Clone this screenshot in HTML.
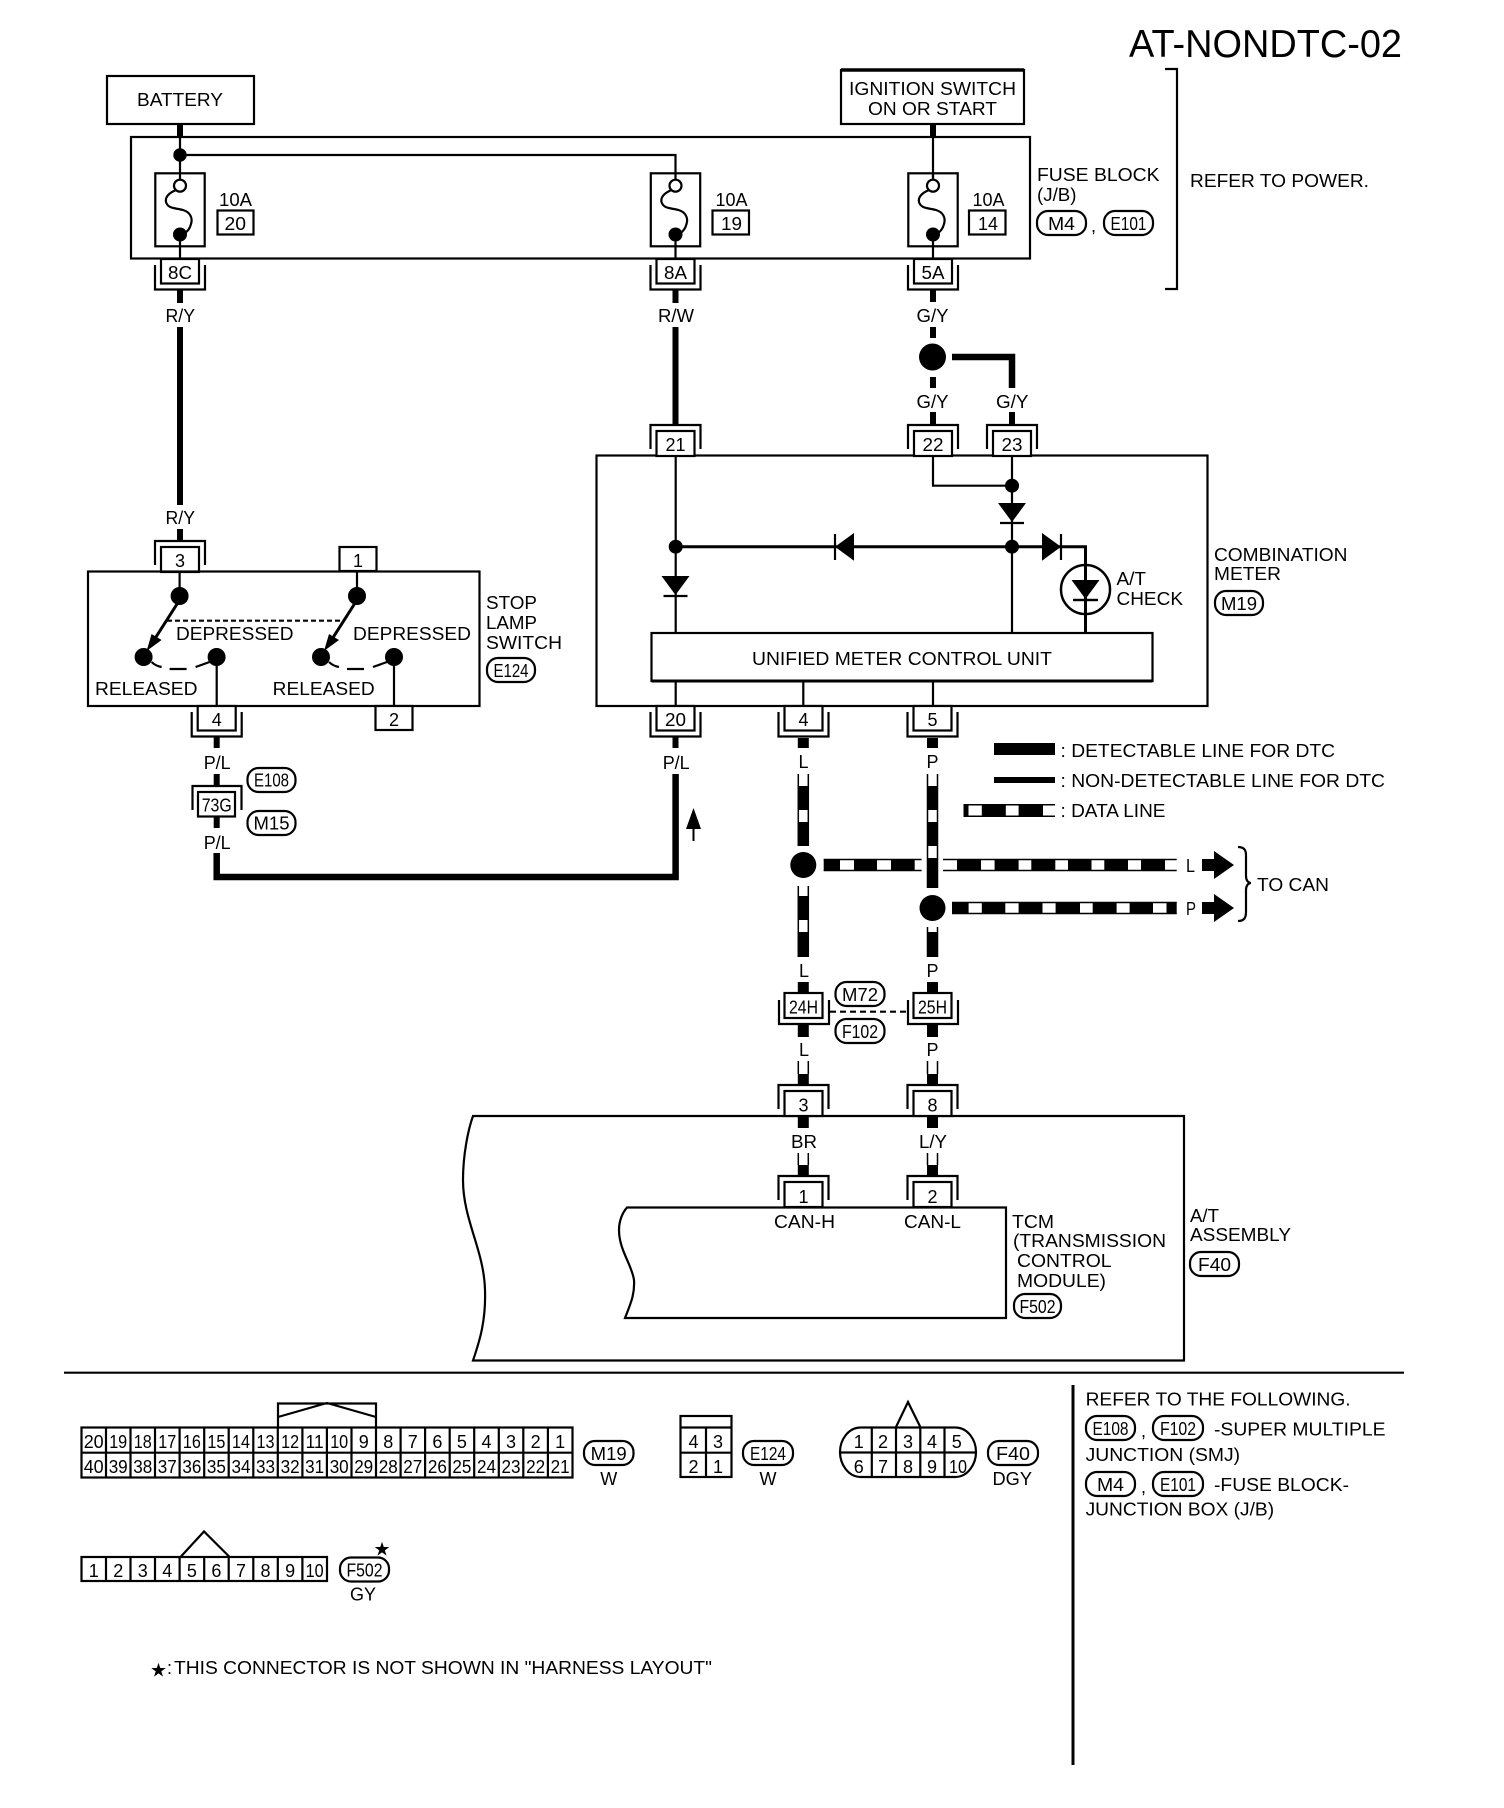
<!DOCTYPE html>
<html>
<head>
<meta charset="utf-8">
<style>
html,body{margin:0;padding:0;background:#fff}
svg{display:block}
text{font-family:"Liberation Sans",sans-serif;font-size:18px;fill:#000;stroke:none}
.m{text-anchor:middle}
.l{fill:none;stroke:#000;stroke-width:2.2}
.w{fill:none;stroke:#000;stroke-width:6}
.d{fill:none;stroke:#000;stroke-width:11}
.s{fill:none;stroke:#000;stroke-width:1.5}
.h{fill:none;stroke:#000;stroke-width:12}
.b{fill:#fff;stroke:#000;stroke-width:2.2}
.f{fill:#000;stroke:none}
text.t{font-family:"DejaVu Sans",sans-serif;font-size:19px}
</style>
</head>
<body>
<svg width="1504" height="1808" viewBox="0 0 1504 1808" xmlns="http://www.w3.org/2000/svg">
<defs>
<g id="cb"><path class="l" d="M-25 6V30.500H25V6" stroke-width="2.800"/><rect class="b" x="-19" y="0" width="38" height="24.500"/></g>
<g id="ct"><path class="l" d="M-25 24V0H25V24" stroke-width="2.800"/><rect class="b" x="-19" y="6" width="38" height="25"/></g>
<g id="fuse">
<rect class="l" x="-24.700" y="173.300" width="49.400" height="73"/>
<circle cx="0" cy="185.700" r="6" fill="#fff" stroke="#000" stroke-width="2.200"/>
<path class="l" d="M-4 190C-11 193-15 197-14 202C-12 209-4 208 3 210C10 212 13 218 11 224C10 228 8 231 5 233"/>
<circle class="f" cx="0" cy="234.500" r="7"/>
<path class="l" d="M0 235V259"/>
</g>
<g id="diode"><polygon class="f" points="-14,0 14,0 0,19"/><path class="l" d="M-12 20H12"/></g>
<g id="sw">
<circle class="f" cx="0" cy="0" r="9"/>
<path d="M0 4L-30 51" fill="none" stroke="#000" stroke-width="3"/>
<polygon class="f" points="-33,55 -28,38 -18,44"/>
<circle class="f" cx="-36" cy="61" r="9"/>
<circle class="f" cx="37" cy="61" r="9"/>
<path class="l" d="M-28 66Q-24 70-18 71M-10 73H7M16 71L30 66"/>
</g>
</defs>

<!-- title -->
<text x="1129" y="57" style="font-size:39px" textLength="273" lengthAdjust="spacingAndGlyphs">AT-NONDTC-02</text>

<!-- top boxes -->
<rect class="l" x="107" y="76" width="147" height="48"/>
<text x="137" y="106" textLength="86" lengthAdjust="spacingAndGlyphs">BATTERY</text>
<rect class="l" x="841" y="70" width="183" height="54"/>
<path d="M841 70H1024" stroke="#000" stroke-width="3.500"/>
<text x="849" y="95" textLength="167" lengthAdjust="spacingAndGlyphs">IGNITION SWITCH</text>
<text x="868" y="115" textLength="129" lengthAdjust="spacingAndGlyphs">ON OR START</text>
<path class="w" d="M180 124V138M933 124V138"/>

<!-- fuse block -->
<rect class="l" x="131" y="137" width="899" height="121.500"/>
<path class="l" d="M180 137V173M180 155H675.500V173M933 137V179"/>
<circle class="f" cx="180" cy="155" r="6.700"/>
<use href="#fuse" x="180"/>
<use href="#fuse" x="675.500"/>
<use href="#fuse" x="933"/>
<path class="l" d="M180 173V180M675.500 173V180M933 173V180"/>
<text x="219" y="206" textLength="33" lengthAdjust="spacingAndGlyphs">10A</text>
<rect class="b" x="217.500" y="210.500" width="36" height="24"/>
<text x="224.500" y="230" textLength="21.500" lengthAdjust="spacingAndGlyphs">20</text>
<text x="715.500" y="206" textLength="32" lengthAdjust="spacingAndGlyphs">10A</text>
<rect class="b" x="712.500" y="210.500" width="36.500" height="24"/>
<text x="721" y="230" textLength="21" lengthAdjust="spacingAndGlyphs">19</text>
<text x="972.500" y="206" textLength="32" lengthAdjust="spacingAndGlyphs">10A</text>
<rect class="b" x="969" y="210.500" width="36.500" height="24"/>
<text x="978" y="230" textLength="20" lengthAdjust="spacingAndGlyphs">14</text>

<text x="1037" y="181" textLength="122.500" lengthAdjust="spacingAndGlyphs">FUSE BLOCK</text>
<text x="1037" y="201" textLength="39.500" lengthAdjust="spacingAndGlyphs">(J/B)</text>
<rect class="b" x="1037" y="211" width="49" height="24" rx="11"/>
<text class="m" x="1061.500" y="230" textLength="27" lengthAdjust="spacingAndGlyphs">M4</text>
<text x="1091" y="232">,</text>
<rect class="b" x="1104" y="211" width="49" height="24" rx="11"/>
<text class="m" x="1128.500" y="230" textLength="36" lengthAdjust="spacingAndGlyphs">E101</text>
<path class="l" d="M1165 69H1177V289H1165"/>
<text x="1190" y="187" textLength="179" lengthAdjust="spacingAndGlyphs">REFER TO POWER.</text>

<!-- connectors under fuse block -->
<use href="#cb" x="180" y="259"/>
<use href="#cb" x="675.500" y="259"/>
<use href="#cb" x="933" y="259"/>
<text class="m" x="180" y="279" textLength="24" lengthAdjust="spacingAndGlyphs">8C</text>
<text class="m" x="675.500" y="279" textLength="23" lengthAdjust="spacingAndGlyphs">8A</text>
<text class="m" x="933" y="279" textLength="23" lengthAdjust="spacingAndGlyphs">5A</text>

<path class="w" d="M180 290V303M180 327V505M180 529V541M675.500 290V303M675.500 327V425M933 290V302M933 327V338M933 377V388M933 412V425M1012 412V424"/>
<path d="M952 357H1012V388" fill="none" stroke="#000" stroke-width="6.500"/>
<circle class="f" cx="932.500" cy="357" r="13.500"/>
<text x="165.500" y="322" textLength="29.500" lengthAdjust="spacingAndGlyphs">R/Y</text>
<text x="658" y="322" textLength="36" lengthAdjust="spacingAndGlyphs">R/W</text>
<text x="916.500" y="322" textLength="32" lengthAdjust="spacingAndGlyphs">G/Y</text>
<text x="916.500" y="408" textLength="32" lengthAdjust="spacingAndGlyphs">G/Y</text>
<text x="996" y="408" textLength="32.500" lengthAdjust="spacingAndGlyphs">G/Y</text>
<text x="165.500" y="524" textLength="29.500" lengthAdjust="spacingAndGlyphs">R/Y</text>

<!-- combination meter -->
<rect class="l" x="596.500" y="455.500" width="611" height="250.500"/>
<use href="#ct" x="675.500" y="425"/>
<use href="#ct" x="933" y="425"/>
<use href="#ct" x="1012" y="425"/>
<text class="m" x="675.500" y="451" textLength="20" lengthAdjust="spacingAndGlyphs">21</text>
<text class="m" x="933" y="451" textLength="21" lengthAdjust="spacingAndGlyphs">22</text>
<text class="m" x="1012" y="451" textLength="21" lengthAdjust="spacingAndGlyphs">23</text>
<path class="l" d="M675.700 456V632M933 456V485.700H1012M1012 456V632M675.700 682V706M803.300 682V706M933 682V706"/>
<path d="M676 546.700H1085.500V633" fill="none" stroke="#000" stroke-width="3"/>
<circle class="f" cx="675.700" cy="546.700" r="7"/>
<circle class="f" cx="1012" cy="485.700" r="7"/>
<circle class="f" cx="1012" cy="546.700" r="7"/>
<use href="#diode" x="1012" y="503"/>
<use href="#diode" x="675.500" y="576"/>
<polygon class="f" points="835,546.700 854,533 854,560.700"/>
<path class="l" d="M835 534V560"/>
<polygon class="f" points="1061,546.700 1042,533 1042,560.700"/>
<path class="l" d="M1061 534V560"/>
<circle cx="1085.500" cy="589.500" r="24.500" fill="none" stroke="#000" stroke-width="2.500"/>
<use href="#diode" x="1085.500" y="580"/>
<path class="l" d="M1073 600H1098"/>
<rect class="b" x="651.500" y="633" width="501" height="48"/>
<path d="M651.500 681H1152.500" stroke="#000" stroke-width="3"/>
<text x="752" y="665" textLength="300" lengthAdjust="spacingAndGlyphs">UNIFIED METER CONTROL UNIT</text>
<text x="1116.500" y="585" textLength="29.500" lengthAdjust="spacingAndGlyphs">A/T</text>
<text x="1116.500" y="605" textLength="66.500" lengthAdjust="spacingAndGlyphs">CHECK</text>
<text x="1214" y="561" textLength="133.500" lengthAdjust="spacingAndGlyphs">COMBINATION</text>
<text x="1214" y="580" textLength="67" lengthAdjust="spacingAndGlyphs">METER</text>
<rect class="b" x="1215" y="591" width="48" height="24" rx="11"/>
<text class="m" x="1239" y="610" textLength="36" lengthAdjust="spacingAndGlyphs">M19</text>

<use href="#cb" x="675.500" y="706"/>
<use href="#cb" x="803.500" y="706"/>
<use href="#cb" x="932.500" y="706"/>
<text class="m" x="675.500" y="726" textLength="21" lengthAdjust="spacingAndGlyphs">20</text>
<text class="m" x="803.500" y="726">4</text>
<text class="m" x="932.500" y="726">5</text>

<!-- stop lamp switch -->
<use href="#ct" x="180" y="541"/>
<text class="m" x="180" y="567">3</text>
<rect class="b" x="339.500" y="547" width="37" height="24"/>
<text class="m" x="358" y="567">1</text>
<rect class="l" x="88" y="571.500" width="391.500" height="134.500"/>
<path class="l" d="M179.600 571V596M357 571V596M216.700 657V706M394 657V706"/>
<use href="#sw" x="179.600" y="596"/>
<use href="#sw" x="357" y="596"/>
<path class="l" stroke-dasharray="5 3" d="M167 620.700H342"/>
<text x="176" y="640" textLength="117.500" lengthAdjust="spacingAndGlyphs">DEPRESSED</text>
<text x="353" y="640" textLength="118" lengthAdjust="spacingAndGlyphs">DEPRESSED</text>
<text x="95" y="695" textLength="102.500" lengthAdjust="spacingAndGlyphs">RELEASED</text>
<text x="272.700" y="695" textLength="102" lengthAdjust="spacingAndGlyphs">RELEASED</text>
<text x="486" y="609" textLength="51" lengthAdjust="spacingAndGlyphs">STOP</text>
<text x="486" y="629" textLength="51" lengthAdjust="spacingAndGlyphs">LAMP</text>
<text x="486" y="649" textLength="76" lengthAdjust="spacingAndGlyphs">SWITCH</text>
<rect class="b" x="487" y="658" width="48" height="24" rx="11"/>
<text class="m" x="511" y="677" textLength="35" lengthAdjust="spacingAndGlyphs">E124</text>
<use href="#cb" x="216.700" y="706"/>
<text class="m" x="216.700" y="726">4</text>
<rect class="b" x="375.500" y="706" width="37" height="24"/>
<text class="m" x="394" y="726">2</text>

<!-- P/L path -->
<path class="w" d="M216.700 737V748M216.700 774V785M216.700 817V828M675.500 737V748"/>
<text x="203.700" y="769" textLength="27" lengthAdjust="spacingAndGlyphs">P/L</text>
<path class="l" d="M192.500 810V786H241.500V810"/>
<rect class="b" x="198" y="792" width="37" height="24.500"/>
<text class="m" x="216.700" y="811.500" textLength="30" lengthAdjust="spacingAndGlyphs">73G</text>
<rect class="b" x="247.500" y="768" width="48" height="24" rx="11"/>
<text class="m" x="271.500" y="786.500" textLength="35" lengthAdjust="spacingAndGlyphs">E108</text>
<rect class="b" x="247.500" y="811" width="48" height="24" rx="11"/>
<text class="m" x="271.500" y="829.500" textLength="36" lengthAdjust="spacingAndGlyphs">M15</text>
<text x="203.700" y="849" textLength="27" lengthAdjust="spacingAndGlyphs">P/L</text>
<path d="M216.700 853V877H675.600V774" fill="none" stroke="#000" stroke-width="6.500"/>
<text x="662.700" y="769" textLength="27" lengthAdjust="spacingAndGlyphs">P/L</text>
<polygon class="f" points="693.500,808 686,829 701,829"/>
<path d="M693.500 826V841" stroke="#000" stroke-width="2"/>

<!-- L / P labels -->
<text class="m" x="803.500" y="768">L</text>
<text class="m" x="932.500" y="768">P</text>

<!-- legend -->
<rect class="f" x="994" y="743" width="61" height="12"/>
<text x="1060.500" y="757" textLength="274.500" lengthAdjust="spacingAndGlyphs">: DETECTABLE LINE FOR DTC</text>
<rect class="f" x="994" y="777" width="61" height="6"/>
<text x="1060.500" y="787" textLength="324.500" lengthAdjust="spacingAndGlyphs">: NON-DETECTABLE LINE FOR DTC</text>
<path class="s" d="M963.500 804.800H1055M963.500 816.200H1055"/>
<path class="f" d="M963.500 804h5v13h-5zM981.800 804h24v13h-24zM1018.600 804h24.400v13h-24.400z"/>
<text x="1060.500" y="817" textLength="105" lengthAdjust="spacingAndGlyphs">: DATA LINE</text>

<!-- data lines vertical -->
<path class="d" d="M803.300 738V748M932.500 738V748M803.300 786V810M803.300 822V846M803.300 896V920M803.300 932V957M932.500 786V810M932.500 822V846M932.500 858V888M932.500 932V957M803.300 982V992M932.500 982V992M803.300 1025V1037M932.500 1025V1037M803.300 1074V1084M932.500 1074V1084M803.300 1116V1128M932.500 1116V1128M803.300 1165V1176M932.500 1165V1176"/>
<path class="s" d="M798.300 774V846M808.300 774V846M798.300 886V957M808.300 886V957M927.500 774V888M937.500 774V888M927.500 927V957M937.500 927V957M798.300 1061V1074M808.300 1061V1074M927.500 1061V1074M937.500 1061V1074M798.300 1153V1165M808.300 1153V1165M927.500 1153V1165M937.500 1153V1165"/>
<circle class="f" cx="803.300" cy="865" r="13"/>
<circle class="f" cx="932.500" cy="908" r="13"/>

<!-- data lines horizontal -->
<path class="h" d="M823.700 865H840M854 865H877M891 865H914.700M957 865H981M994.600 865H1018.600M1031.300 865H1055.300M1068 865H1091.500M1104.300 865H1128M1141 865H1165"/>
<path class="s" d="M823.700 859.500H921.600M823.700 870.500H921.600M943 859.500H1176.700M943 870.500H1176.700"/>
<path class="h" d="M952 908H968.600M981.800 908H1005.300M1018.600 908H1042.500M1055.600 908H1080M1092.700 908H1116.600M1129.600 908H1153M1166.500 908H1176.700"/>
<path class="s" d="M952 902.500H1176.700M952 913.500H1176.700"/>
<text x="1186" y="872" textLength="9" lengthAdjust="spacingAndGlyphs">L</text>
<text x="1186" y="915" textLength="10" lengthAdjust="spacingAndGlyphs">P</text>
<polygon class="f" points="1202,859 1214,859 1214,851 1234,865 1214,879 1214,871 1202,871"/>
<polygon class="f" points="1202,902 1214,902 1214,894 1234,908 1214,922 1214,914 1202,914"/>
<path class="l" d="M1238 847C1244 847 1246 850 1246 855V876C1246 880 1248 883 1251 883C1248 883 1246 886 1246 890V912C1246 918 1244 921 1238 921"/>
<text x="1257" y="891" textLength="72" lengthAdjust="spacingAndGlyphs">TO CAN</text>

<!-- joint connector -->
<text class="m" x="804" y="977">L</text>
<text class="m" x="932.500" y="977">P</text>
<path class="l" d="M779 1000V1024H829V1000M908 1000V1024H958V1000"/>
<rect class="b" x="784.500" y="993" width="38" height="25"/>
<rect class="b" x="913.500" y="993" width="38" height="25"/>
<text class="m" x="803.500" y="1013.500" textLength="29" lengthAdjust="spacingAndGlyphs">24H</text>
<text class="m" x="932.500" y="1013.500" textLength="29" lengthAdjust="spacingAndGlyphs">25H</text>
<path class="l" stroke-dasharray="6 4" d="M830 1011.700H908"/>
<rect class="b" x="835.500" y="982" width="49" height="24" rx="11"/>
<text class="m" x="860" y="1001" textLength="36" lengthAdjust="spacingAndGlyphs">M72</text>
<rect class="b" x="835.500" y="1019" width="49" height="24" rx="11"/>
<text class="m" x="860" y="1038" textLength="36" lengthAdjust="spacingAndGlyphs">F102</text>
<text class="m" x="804" y="1056">L</text>
<text class="m" x="932.500" y="1056">P</text>

<!-- A/T assembly -->
<path class="l" d="M473 1116H1184V1360.500H473C480 1340 486 1320 485 1290C484 1250 463 1220 463 1180C463 1155 468 1130 473 1116Z"/>
<use href="#ct" x="803.500" y="1085"/>
<use href="#ct" x="932.500" y="1085"/>
<text class="m" x="803.500" y="1111.500">3</text>
<text class="m" x="932.500" y="1111.500">8</text>
<text x="791" y="1148" textLength="26" lengthAdjust="spacingAndGlyphs">BR</text>
<text x="919" y="1148" textLength="28" lengthAdjust="spacingAndGlyphs">L/Y</text>
<path class="l" d="M627 1207.500H1006V1318H625C630 1305 635 1295 634 1280C632 1265 619 1250 619 1230C619 1220 623 1212 627 1207.500Z"/>
<use href="#ct" x="803.500" y="1176"/>
<use href="#ct" x="932.500" y="1176"/>
<text class="m" x="803.500" y="1203">1</text>
<text class="m" x="932.500" y="1203">2</text>
<text x="774" y="1228" textLength="61" lengthAdjust="spacingAndGlyphs">CAN-H</text>
<text x="904" y="1228" textLength="57" lengthAdjust="spacingAndGlyphs">CAN-L</text>
<text x="1012" y="1228" textLength="42" lengthAdjust="spacingAndGlyphs">TCM</text>
<text x="1013" y="1247" textLength="153" lengthAdjust="spacingAndGlyphs">(TRANSMISSION</text>
<text x="1017" y="1267" textLength="94.500" lengthAdjust="spacingAndGlyphs">CONTROL</text>
<text x="1017" y="1287" textLength="89" lengthAdjust="spacingAndGlyphs">MODULE)</text>
<rect class="b" x="1014" y="1294" width="47" height="24" rx="11"/>
<text class="m" x="1037.500" y="1313" textLength="36" lengthAdjust="spacingAndGlyphs">F502</text>
<text x="1190" y="1222" textLength="29" lengthAdjust="spacingAndGlyphs">A/T</text>
<text x="1190" y="1241" textLength="101" lengthAdjust="spacingAndGlyphs">ASSEMBLY</text>
<rect class="b" x="1190" y="1252" width="49" height="24" rx="11"/>
<text class="m" x="1214.500" y="1271" textLength="33" lengthAdjust="spacingAndGlyphs">F40</text>

<!-- separator -->
<path d="M64 1372.700H1404" stroke="#000" stroke-width="2.200"/>
<path d="M1073 1385V1765" stroke="#000" stroke-width="3"/>

<!-- M19 connector -->
<path class="l" d="M278 1427V1403.500H376V1427M278 1417L327 1403L376 1417"/>
<rect class="b" x="81.500" y="1427.500" width="491" height="50"/>
<path class="l" d="M81.500 1452.700H572.500M106 1427V1477M130.500 1427V1477M155 1427V1477M179.600 1427V1477M204.200 1427V1477M228.700 1427V1477M253.300 1427V1477M277.800 1427V1477M302.400 1427V1477M326.900 1427V1477M351.500 1427V1477M376 1427V1477M400.600 1427V1477M425.100 1427V1477M449.700 1427V1477M474.200 1427V1477M498.800 1427V1477M523.300 1427V1477M547.900 1427V1477" stroke-width="2"/>
<text class="m" x="93.700" y="1448" textLength="20" lengthAdjust="spacingAndGlyphs">20</text>
<text class="m" x="118.200" y="1448" textLength="18" lengthAdjust="spacingAndGlyphs">19</text>
<text class="m" x="142.800" y="1448" textLength="18" lengthAdjust="spacingAndGlyphs">18</text>
<text class="m" x="167.300" y="1448" textLength="18" lengthAdjust="spacingAndGlyphs">17</text>
<text class="m" x="191.900" y="1448" textLength="18" lengthAdjust="spacingAndGlyphs">16</text>
<text class="m" x="216.400" y="1448" textLength="18" lengthAdjust="spacingAndGlyphs">15</text>
<text class="m" x="241" y="1448" textLength="18" lengthAdjust="spacingAndGlyphs">14</text>
<text class="m" x="265.500" y="1448" textLength="18" lengthAdjust="spacingAndGlyphs">13</text>
<text class="m" x="290.100" y="1448" textLength="18" lengthAdjust="spacingAndGlyphs">12</text>
<text class="m" x="314.600" y="1448" textLength="18" lengthAdjust="spacingAndGlyphs">11</text>
<text class="m" x="339.200" y="1448" textLength="18" lengthAdjust="spacingAndGlyphs">10</text>
<text class="m" x="363.700" y="1448">9</text>
<text class="m" x="388.300" y="1448">8</text>
<text class="m" x="412.800" y="1448">7</text>
<text class="m" x="437.400" y="1448">6</text>
<text class="m" x="461.900" y="1448">5</text>
<text class="m" x="486.500" y="1448">4</text>
<text class="m" x="511" y="1448">3</text>
<text class="m" x="535.600" y="1448">2</text>
<text class="m" x="560.100" y="1448">1</text>
<text class="m" x="93.700" y="1473" textLength="20" lengthAdjust="spacingAndGlyphs">40</text>
<text class="m" x="118.200" y="1473" textLength="19" lengthAdjust="spacingAndGlyphs">39</text>
<text class="m" x="142.800" y="1473" textLength="19" lengthAdjust="spacingAndGlyphs">38</text>
<text class="m" x="167.300" y="1473" textLength="19" lengthAdjust="spacingAndGlyphs">37</text>
<text class="m" x="191.900" y="1473" textLength="19" lengthAdjust="spacingAndGlyphs">36</text>
<text class="m" x="216.400" y="1473" textLength="19" lengthAdjust="spacingAndGlyphs">35</text>
<text class="m" x="241" y="1473" textLength="19" lengthAdjust="spacingAndGlyphs">34</text>
<text class="m" x="265.500" y="1473" textLength="19" lengthAdjust="spacingAndGlyphs">33</text>
<text class="m" x="290.100" y="1473" textLength="19" lengthAdjust="spacingAndGlyphs">32</text>
<text class="m" x="314.600" y="1473" textLength="19" lengthAdjust="spacingAndGlyphs">31</text>
<text class="m" x="339.200" y="1473" textLength="19" lengthAdjust="spacingAndGlyphs">30</text>
<text class="m" x="363.700" y="1473" textLength="19" lengthAdjust="spacingAndGlyphs">29</text>
<text class="m" x="388.300" y="1473" textLength="19" lengthAdjust="spacingAndGlyphs">28</text>
<text class="m" x="412.800" y="1473" textLength="19" lengthAdjust="spacingAndGlyphs">27</text>
<text class="m" x="437.400" y="1473" textLength="19" lengthAdjust="spacingAndGlyphs">26</text>
<text class="m" x="461.900" y="1473" textLength="19" lengthAdjust="spacingAndGlyphs">25</text>
<text class="m" x="486.500" y="1473" textLength="19" lengthAdjust="spacingAndGlyphs">24</text>
<text class="m" x="511" y="1473" textLength="19" lengthAdjust="spacingAndGlyphs">23</text>
<text class="m" x="535.600" y="1473" textLength="19" lengthAdjust="spacingAndGlyphs">22</text>
<text class="m" x="560.100" y="1473" textLength="19" lengthAdjust="spacingAndGlyphs">21</text>
<rect class="b" x="584" y="1441" width="49.500" height="24" rx="11"/>
<text class="m" x="608.700" y="1460" textLength="36" lengthAdjust="spacingAndGlyphs">M19</text>
<text class="m" x="608.700" y="1485">W</text>

<!-- E124 connector -->
<rect class="b" x="680.500" y="1416" width="51" height="61"/>
<path class="l" d="M680.500 1427.500H731.500M680.500 1452.700H731.500M706 1427V1477"/>
<text class="m" x="693.500" y="1448">4</text>
<text class="m" x="718" y="1448">3</text>
<text class="m" x="693.500" y="1473">2</text>
<text class="m" x="718" y="1473">1</text>
<rect class="b" x="743" y="1441" width="50" height="24" rx="11"/>
<text class="m" x="768" y="1460" textLength="36" lengthAdjust="spacingAndGlyphs">E124</text>
<text class="m" x="768" y="1485">W</text>

<!-- F40 connector -->
<path class="l" d="M896 1427L908 1402L920.300 1427"/>
<path class="b" d="M861 1427.500H955C968 1427.500 976 1440 976 1452C976 1464 968 1477 955 1477H861C848 1477 840 1464 840 1452C840 1440 848 1427.500 861 1427.500Z"/>
<path class="l" d="M840 1452.500H976M871.800 1427V1477M896 1427V1477M920.300 1427V1477M944.500 1427V1477"/>
<text class="m" x="858.700" y="1448">1</text>
<text class="m" x="883" y="1448">2</text>
<text class="m" x="908" y="1448">3</text>
<text class="m" x="932" y="1448">4</text>
<text class="m" x="956.700" y="1448">5</text>
<text class="m" x="858.700" y="1473">6</text>
<text class="m" x="883" y="1473">7</text>
<text class="m" x="908" y="1473">8</text>
<text class="m" x="932" y="1473">9</text>
<text class="m" x="958" y="1473" textLength="18" lengthAdjust="spacingAndGlyphs">10</text>
<rect class="b" x="988" y="1441" width="50" height="24" rx="11"/>
<text class="m" x="1013" y="1460" textLength="34" lengthAdjust="spacingAndGlyphs">F40</text>
<text x="992.500" y="1485" textLength="39.500" lengthAdjust="spacingAndGlyphs">DGY</text>

<!-- F502 connector -->
<path class="l" d="M180.500 1557L204 1531.500L229.600 1557"/>
<rect class="b" x="81.500" y="1557" width="245.500" height="24"/>
<path class="l" d="M106 1557V1581M130.500 1557V1581M155 1557V1581M179.600 1557V1581M204.200 1557V1581M228.700 1557V1581M253.300 1557V1581M277.800 1557V1581M302.400 1557V1581" stroke-width="2"/>
<text class="m" x="93.700" y="1577">1</text>
<text class="m" x="118.200" y="1577">2</text>
<text class="m" x="142.800" y="1577">3</text>
<text class="m" x="167.300" y="1577">4</text>
<text class="m" x="191.900" y="1577">5</text>
<text class="m" x="216.400" y="1577">6</text>
<text class="m" x="241" y="1577">7</text>
<text class="m" x="265.500" y="1577">8</text>
<text class="m" x="290.100" y="1577">9</text>
<text class="m" x="314.600" y="1577" textLength="18" lengthAdjust="spacingAndGlyphs">10</text>
<rect class="b" x="340" y="1557.500" width="49" height="24" rx="11"/>
<text class="m" x="364.500" y="1576.500" textLength="36" lengthAdjust="spacingAndGlyphs">F502</text>
<text x="350" y="1600.500" textLength="26" lengthAdjust="spacingAndGlyphs">GY</text>
<text class="m t" x="382" y="1555.500">★</text>

<!-- footnote -->
<text class="m t" x="158.500" y="1676.500">★</text>
<text x="167" y="1674">:</text>
<text x="174" y="1674" textLength="538" lengthAdjust="spacingAndGlyphs">THIS CONNECTOR IS NOT SHOWN IN "HARNESS LAYOUT"</text>

<!-- refer panel -->
<text x="1085.600" y="1405.500" textLength="265" lengthAdjust="spacingAndGlyphs">REFER TO THE FOLLOWING.</text>
<rect class="b" x="1086" y="1416" width="49" height="24" rx="11"/>
<text class="m" x="1110.500" y="1435" textLength="36" lengthAdjust="spacingAndGlyphs">E108</text>
<text x="1141" y="1437">,</text>
<rect class="b" x="1153" y="1416" width="50" height="24" rx="11"/>
<text class="m" x="1178" y="1435" textLength="36" lengthAdjust="spacingAndGlyphs">F102</text>
<text x="1214" y="1435.500" textLength="171.500" lengthAdjust="spacingAndGlyphs">-SUPER MULTIPLE</text>
<text x="1085.600" y="1461" textLength="154.500" lengthAdjust="spacingAndGlyphs">JUNCTION (SMJ)</text>
<rect class="b" x="1086" y="1472" width="49" height="24" rx="11"/>
<text class="m" x="1110.500" y="1491" textLength="27" lengthAdjust="spacingAndGlyphs">M4</text>
<text x="1141" y="1493">,</text>
<rect class="b" x="1153" y="1472" width="50" height="24" rx="11"/>
<text class="m" x="1178" y="1491" textLength="36" lengthAdjust="spacingAndGlyphs">E101</text>
<text x="1214" y="1491" textLength="135" lengthAdjust="spacingAndGlyphs">-FUSE BLOCK-</text>
<text x="1085.600" y="1515.500" textLength="188.500" lengthAdjust="spacingAndGlyphs">JUNCTION BOX (J/B)</text>
</svg>
</body>
</html>
